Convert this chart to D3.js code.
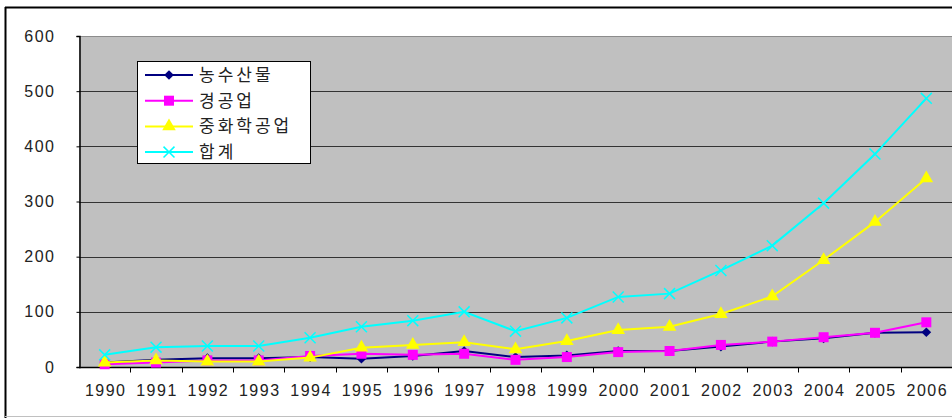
<!DOCTYPE html>
<html>
<head>
<meta charset="utf-8">
<script src="https://cdn.jsdelivr.net/npm/d3@7"></script>
<style>
  body { margin: 0; background: #fff; }
  svg { display: block; }
</style>
</head>
<body>
<svg id="chart" width="952" height="418"></svg>
<script>
// years on the x axis
const years = ["1990", "1991", "1992", "1993", "1994", "1995", "1996", "1997", "1998",
  "1999", "2000", "2001", "2002", "2003", "2004", "2005", "2006"];

// series values
const agri = [8, 13, 16, 16, 18, 15, 20, 29, 18, 21, 29, 29, 37, 46, 52, 62, 63];
const light = [5, 8, 12, 12, 20, 24, 22, 24, 13, 18, 27, 29, 40, 46, 54, 62, 81];
const heavy = [8, 12, 10, 10, 17, 35, 40, 45, 32, 47, 67, 73, 96, 128, 194, 263, 342];
const total = [22, 36, 38, 38, 53, 73, 84, 100, 65, 89, 127, 133, 175, 220, 297, 386, 487];

const seriesNames = ["농수산물", "경공업", "중화학공업", "합계"];
const yTicks = [0, 100, 200, 300, 400, 500, 600];

const series = [
  { name: seriesNames[0], values: agri, color: "#000080", marker: d3.symbolDiamond2, size: 60 },
  { name: seriesNames[1], values: light, color: "#FF00FF", marker: d3.symbolSquare, size: 100 },
  { name: seriesNames[2], values: heavy, color: "#FFFF00", marker: d3.symbolTriangle, size: 80 },
  { name: seriesNames[3], values: total, color: "#00FFFF", marker: d3.symbolX, size: 80 },
];

const svg = d3.select("#chart");
const plot = { left: 79, top: 36, right: 952, bottom: 367 };
const numFont = "Liberation Sans, Arial, sans-serif";

// outer chart frame
svg.append("line").attr("x1", 5.5).attr("x2", 5.5).attr("y1", 7).attr("y2", 418)
  .attr("stroke", "#000").attr("stroke-width", 2);
svg.append("line").attr("x1", 5).attr("x2", 952).attr("y1", 7.5).attr("y2", 7.5)
  .attr("stroke", "#000").attr("stroke-width", 2);
svg.append("line").attr("x1", 5).attr("x2", 952).attr("y1", 416.5).attr("y2", 416.5)
  .attr("stroke", "#c0c0c0").attr("stroke-width", 1);

const x = d3.scaleBand().domain(years).range([plot.left, plot.right]);
const y = d3.scaleLinear().domain([0, 600]).range([plot.bottom, plot.top]);

svg.append("rect")
  .attr("x", plot.left).attr("y", plot.top)
  .attr("width", plot.right - plot.left).attr("height", plot.bottom - plot.top)
  .attr("fill", "#C0C0C0");

// gridlines
svg.append("g").selectAll("line")
  .data(yTicks.filter(t => t > 0))
  .join("line")
  .attr("x1", plot.left).attr("x2", plot.right)
  .attr("y1", d => Math.round(y(d)) + 0.5).attr("y2", d => Math.round(y(d)) + 0.5)
  .attr("stroke", d => d === 600 ? "#8c8c8c" : "#333")
  .attr("stroke-width", 1);

// y axis
const yAxis = svg.append("g")
  .attr("transform", `translate(${plot.left + 0.5},0)`)
  .call(d3.axisLeft(y).tickValues(yTicks).tickSize(3).tickPadding(21));
yAxis.select(".domain").attr("stroke", "#000").attr("stroke-width", 1.5);
yAxis.selectAll(".tick line").attr("stroke", "#000");
yAxis.selectAll("text")
  .attr("font-family", numFont)
  .attr("font-size", 16).attr("letter-spacing", 1.5).attr("fill", "#222");

// x axis with ticks between categories
const xAxis = svg.append("g").attr("transform", `translate(0,${plot.bottom + 0.5})`);
xAxis.append("line").attr("x1", plot.left).attr("x2", plot.right)
  .attr("stroke", "#000").attr("stroke-width", 1.5);
xAxis.selectAll("line.tk")
  .data(years.slice(1))
  .join("line").attr("class", "tk")
  .attr("x1", d => Math.round(x(d)) + 0.5).attr("x2", d => Math.round(x(d)) + 0.5)
  .attr("y1", 0).attr("y2", 5).attr("stroke", "#000");
xAxis.selectAll("text")
  .data(years)
  .join("text")
  .attr("x", d => x(d) + x.bandwidth() / 2 + 1)
  .attr("y", 28)
  .attr("text-anchor", "middle")
  .attr("font-family", numFont)
  .attr("font-size", 16).attr("letter-spacing", 1.5).attr("fill", "#222")
  .text(d => d);

const cx = (d, i) => x(years[i]) + x.bandwidth() / 2;
const line = d3.line().x((d, i) => cx(d, i)).y(d => y(d));

series.forEach(s => {
  const g = svg.append("g");
  g.append("path").attr("d", line(s.values))
    .attr("fill", "none").attr("stroke", s.color).attr("stroke-width", 2);
  g.selectAll("path.m")
    .data(s.values)
    .join("path").attr("class", "m")
    .attr("transform", (d, i) => `translate(${cx(d, i)},${y(d)})`)
    .attr("d", d3.symbol(s.marker, s.size))
    .attr("fill", s.marker === d3.symbolX ? "none" : s.color)
    .attr("stroke", s.marker === d3.symbolX ? s.color : "none")
    .attr("stroke-width", 1.5);
});

// legend
const lg = svg.append("g").attr("transform", "translate(137,61)");
lg.append("rect").attr("x", 0.5).attr("y", 0.5).attr("width", 173).attr("height", 102)
  .attr("fill", "#fff").attr("stroke", "#000");
series.forEach((s, i) => {
  const ry = 14 + i * 25.7;
  lg.append("line").attr("x1", 8).attr("x2", 56).attr("y1", ry).attr("y2", ry)
    .attr("stroke", s.color).attr("stroke-width", 2);
  lg.append("path")
    .attr("transform", `translate(32,${ry})`)
    .attr("d", d3.symbol(s.marker, s.size))
    .attr("fill", s.marker === d3.symbolX ? "none" : s.color)
    .attr("stroke", s.marker === d3.symbolX ? s.color : "none")
    .attr("stroke-width", 1.5);
  lg.append("text")
    .attr("x", 62).attr("y", ry + 6)
    .attr("font-family", "Noto Sans CJK KR, sans-serif")
    .attr("font-size", 17).attr("letter-spacing", 3).attr("fill", "#222")
    .text(s.name);
});
</script>
</body>
</html>
